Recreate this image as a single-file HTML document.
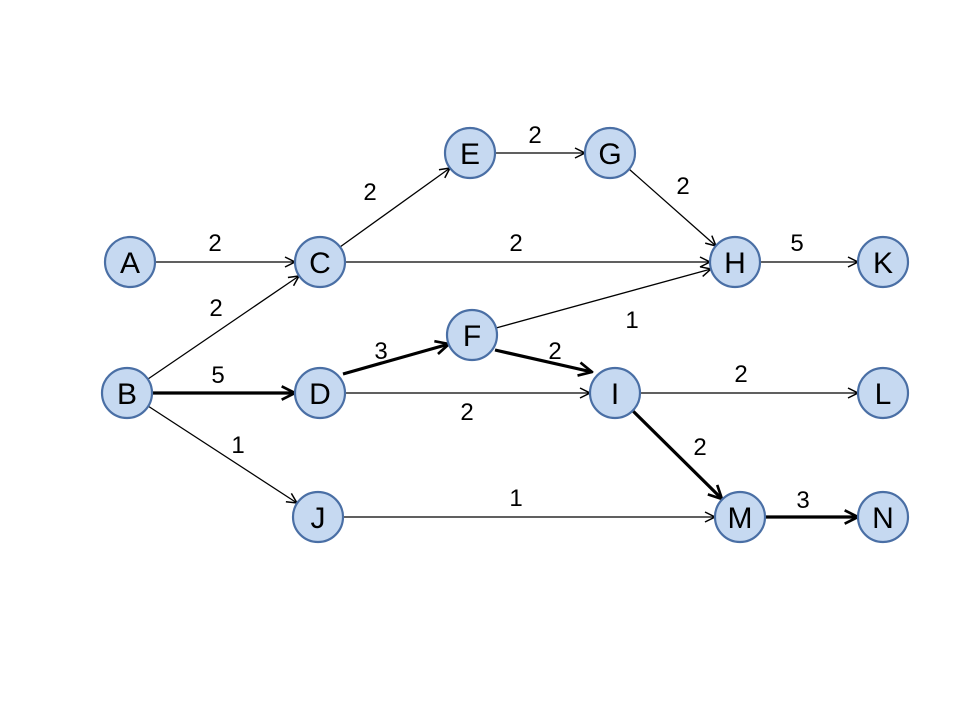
<!DOCTYPE html>
<html><head><style>body{margin:0;background:#fff}</style></head><body>
<svg width="960" height="720" xmlns="http://www.w3.org/2000/svg" font-family="Liberation Sans, sans-serif">
<defs>
<marker id="a" viewBox="0 0 12 12" refX="11" refY="6" markerWidth="12" markerHeight="12" markerUnits="userSpaceOnUse" orient="auto"><path d="M1,1 L11,6 L1,11" fill="none" stroke="#000" stroke-width="1.5"/></marker>
<marker id="b" viewBox="0 0 12 12" refX="11" refY="6" markerWidth="16" markerHeight="16" markerUnits="userSpaceOnUse" orient="auto"><path d="M1,1 L11,6 L1,11" fill="none" stroke="#000" stroke-width="2"/></marker>
</defs>
<g stroke="#000" stroke-width="1.3" marker-end="url(#a)">
<line x1="155" y1="262" x2="295" y2="262"/>
<line x1="340" y1="247" x2="450" y2="168"/>
<line x1="345" y1="262" x2="710" y2="262"/>
<line x1="495" y1="153" x2="585" y2="153"/>
<line x1="629" y1="169" x2="716" y2="246"/>
<line x1="760" y1="262" x2="858" y2="262"/>
<line x1="148" y1="379" x2="299" y2="276"/>
<line x1="148" y1="406" x2="297" y2="503"/>
<line x1="345" y1="393" x2="590" y2="393"/>
<line x1="496" y1="328" x2="711" y2="269"/>
<line x1="640" y1="393" x2="858" y2="393"/>
<line x1="343" y1="517" x2="715" y2="517"/>
</g>
<g stroke="#000" stroke-width="3.2" marker-end="url(#b)">
<line x1="152" y1="393" x2="295" y2="393"/>
<line x1="343" y1="374" x2="449" y2="344"/>
<line x1="495" y1="350" x2="592" y2="372"/>
<line x1="633" y1="411" x2="722" y2="499"/>
<line x1="765" y1="517" x2="858" y2="517"/>
</g>
<g fill="#c6d9f1" stroke="#4a6fa5" stroke-width="2.2">
<circle cx="130" cy="262" r="25"/><circle cx="127" cy="393" r="25"/>
<circle cx="320" cy="262" r="25"/><circle cx="320" cy="393" r="25"/>
<circle cx="470" cy="153" r="25"/><circle cx="472" cy="335" r="25"/>
<circle cx="610" cy="153" r="25"/><circle cx="735" cy="262" r="25"/>
<circle cx="615" cy="393" r="25"/><circle cx="318" cy="517" r="25"/>
<circle cx="883" cy="262" r="25"/><circle cx="883" cy="393" r="25"/>
<circle cx="740" cy="517" r="25"/><circle cx="883" cy="517" r="25"/>
</g>
<g font-size="30" text-anchor="middle" fill="#000">
<text x="130" y="273">A</text><text x="127" y="404">B</text>
<text x="320" y="273">C</text><text x="320" y="404">D</text>
<text x="470" y="164">E</text><text x="472" y="346">F</text>
<text x="610" y="164">G</text><text x="735" y="273">H</text>
<text x="615" y="404">I</text><text x="318" y="528">J</text>
<text x="883" y="273">K</text><text x="883" y="404">L</text>
<text x="740" y="528">M</text><text x="883" y="528">N</text>
</g>
<g font-size="24" text-anchor="middle" fill="#000">
<text x="215" y="251">2</text><text x="370" y="200">2</text>
<text x="516" y="251">2</text><text x="535" y="143">2</text>
<text x="683" y="194">2</text><text x="797" y="251">5</text>
<text x="216" y="316">2</text><text x="218" y="383">5</text>
<text x="238" y="453">1</text><text x="381" y="359">3</text>
<text x="467" y="420">2</text><text x="632" y="328">1</text>
<text x="555" y="359">2</text><text x="741" y="382">2</text>
<text x="700" y="455">2</text><text x="516" y="506">1</text>
<text x="803" y="508">3</text>
</g>
</svg>
</body></html>
